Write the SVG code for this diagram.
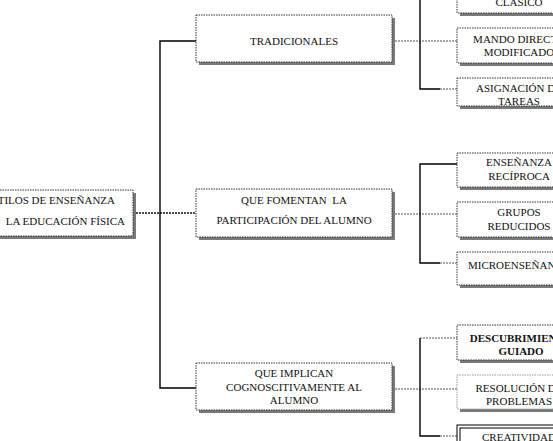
<svg xmlns="http://www.w3.org/2000/svg" width="553" height="441" viewBox="0 0 553 441">
<style>
.sh{fill:#7a7a7a}
.bx{fill:#fff;stroke:#333;stroke-width:1;stroke-dasharray:1.5 1}
.t{font-family:"Liberation Serif","Times New Roman",serif;font-size:11px;fill:#111;text-anchor:middle;white-space:pre}
.b{font-weight:bold}
.solid{stroke:#000;stroke-width:1.4;fill:none}
.dash{stroke:#555;stroke-width:1;stroke-dasharray:2 1;fill:none}
</style>
<rect width="553" height="441" fill="#fff"/>
<g id="connectors">
<line class="dash" x1="136" y1="213" x2="196" y2="213" style="stroke:#111;stroke-width:1.3"/>
<polyline class="solid" points="196,41 160,41 160,388 196,388"/>
<line class="dash" x1="395" y1="41" x2="457" y2="41"/>
<polyline class="solid" points="420,-5 420,89 440,89"/>
<line class="dash" x1="440" y1="89" x2="457" y2="89"/>
<line class="dash" x1="395" y1="214" x2="457" y2="214"/>
<polyline class="solid" points="457,164 420,164 420,263 440,263"/>
<line class="dash" x1="440" y1="263" x2="457" y2="263"/>
<line class="dash" x1="395" y1="389" x2="457" y2="389"/>
<line class="dash" x1="420" y1="338" x2="457" y2="338"/>
<polyline class="solid" points="420,338 420,436 440,436"/>
<line class="dash" x1="440" y1="436" x2="457" y2="436"/>
</g>
<g id="root">
<rect class="sh" x="-7" y="193" width="143" height="46"/>
<rect class="bx" x="-10" y="190" width="143" height="46"/>
<text class="t" x="115" y="204" style="text-anchor:end">ESTILOS DE ENSEÑANZA</text>
<text class="t" x="125" y="225" style="text-anchor:end">LA EDUCACIÓN FÍSICA</text>
</g>
<g id="tradicionales">
<rect class="sh" x="199" y="18" width="196" height="47"/>
<rect class="bx" x="196" y="15" width="196" height="47"/>
<text class="t" x="294" y="45">TRADICIONALES</text>
</g>
<g id="fomentan">
<rect class="sh" x="199" y="192" width="196" height="48"/>
<rect class="bx" x="196" y="189" width="196" height="48"/>
<text class="t" x="294" y="204" xml:space="preserve">QUE FOMENTAN  LA</text>
<text class="t" x="294" y="224">PARTICIPACIÓN DEL ALUMNO</text>
</g>
<g id="implican">
<rect class="sh" x="199" y="366" width="196" height="47"/>
<rect class="bx" x="196" y="363" width="196" height="47"/>
<text class="t" x="294" y="377">QUE IMPLICAN</text>
<text class="t" x="294" y="391">COGNOSCITIVAMENTE AL</text>
<text class="t" x="294" y="404">ALUMNO</text>
</g>
<g id="clasico">
<rect class="sh" x="460" y="-19" width="130" height="35"/>
<rect class="bx" x="457" y="-22" width="130" height="35"/>
<text class="t" x="519" y="6">CLÁSICO</text>
</g>
<g id="mando">
<rect class="sh" x="460" y="31" width="130" height="35"/>
<rect class="bx" x="457" y="28" width="130" height="35"/>
<text class="t" x="519" y="43">MANDO DIRECTO</text>
<text class="t" x="519" y="56">MODIFICADO</text>
</g>
<g id="asignacion">
<rect class="sh" x="460" y="81" width="130" height="28"/>
<rect class="bx" x="457" y="78" width="130" height="28"/>
<text class="t" x="519" y="92">ASIGNACIÓN DE</text>
<text class="t" x="519" y="105">TAREAS</text>
</g>
<g id="reciproca">
<rect class="sh" x="460" y="156" width="130" height="34"/>
<rect class="bx" x="457" y="153" width="130" height="34"/>
<text class="t" x="519" y="166">ENSEÑANZA</text>
<text class="t" x="519" y="180">RECÍPROCA</text>
</g>
<g id="grupos">
<rect class="sh" x="460" y="205" width="130" height="35"/>
<rect class="bx" x="457" y="202" width="130" height="35"/>
<text class="t" x="519" y="216">GRUPOS</text>
<text class="t" x="519" y="230">REDUCIDOS</text>
</g>
<g id="micro">
<rect class="sh" x="460" y="255" width="130" height="33"/>
<rect class="bx" x="457" y="252" width="130" height="33"/>
<text class="t" x="519" y="269">MICROENSEÑANZA</text>
</g>
<g id="descubrimiento">
<rect class="sh" x="460" y="328" width="130" height="35"/>
<rect class="bx" x="457" y="325" width="130" height="35"/>
<text class="t b" x="521" y="342">DESCUBRIMIENTO</text>
<text class="t b" x="521" y="355">GUIADO</text>
</g>
<g id="resolucion">
<rect class="sh" x="460" y="378" width="130" height="34"/>
<rect class="bx" x="457" y="375" width="130" height="34" style="stroke:#999"/>
<text class="t" x="519" y="392">RESOLUCIÓN DE</text>
<text class="t" x="519" y="405">PROBLEMAS</text>
</g>
<g id="creatividad">
<rect class="sh" x="460" y="428" width="130" height="35"/>
<rect x="457" y="425" width="130" height="35" fill="#fff" stroke="#000" stroke-width="1"/>
<rect x="460" y="428" width="124" height="29" fill="none" stroke="#000" stroke-width="1"/>
<text class="t" x="519" y="441">CREATIVIDAD</text>
</g>
</svg>
